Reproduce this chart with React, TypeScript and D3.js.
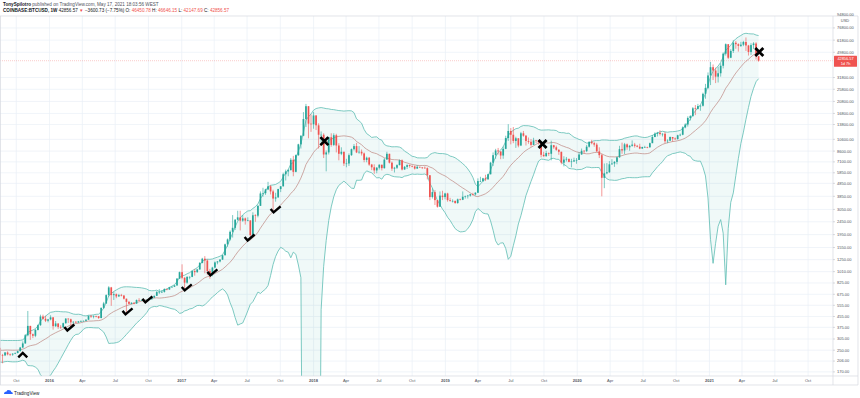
import React from 'react';
import * as d3 from 'd3';

const W = 860;
const H = 398;
const plotRight = 833;
const plotTop = 16;
const plotBottom = 376;

// weekly candles, COINBASE:BTCUSD, first bar is the week of 30 Mar 2015
const firstWeek = new Date(2015, 2, 30);
const firstOpen = 247;

const weekClose = [
  // 2015
  254, 236, 222, 226, 239, 242, 237, 240, 230, 223, 233, 244, 250, 271, 310, 275, 289, 280, 262, 260,
  229, 228, 240, 232, 231, 235, 238, 246, 262, 282, 326, 385, 332, 323, 358, 390, 455, 437, 422, 432,
  // 2016
  448, 383, 402, 378, 376, 404, 438, 433, 410, 414, 409, 417, 420, 421, 430, 460, 454, 458, 457, 443,
  530, 574, 665, 763, 665, 676, 650, 665, 660, 624, 590, 570, 581, 572, 610, 607, 610, 606, 612, 617,
  638, 657, 702, 705, 705, 740, 735, 765, 772, 790, 892, 1000,
  // 2017
  905, 830, 920, 920, 1020, 1000, 1050, 1180, 1270, 1230, 1020, 960, 1085, 1190, 1210, 1250, 1350, 1640, 1790, 2050,
  2200, 2540, 2650, 2500, 2600, 2500, 2510, 1930, 2750, 2730, 3250, 4050, 4070, 4350, 4600, 4200, 3700, 3780, 4380, 4600,
  5700, 5990, 6130, 7370, 5950, 8000, 9700, 11300, 15200, 19100, 14000, 13850,
  // 2018
  16200, 13600, 11500, 11500, 8100, 8400, 11000, 9600, 11400, 9500, 8200, 8500, 6900, 6900, 8000, 8900, 9400, 8400, 8500, 8250,
  7350, 7650, 6770, 6450, 6100, 6400, 6750, 6350, 7400, 8200, 7000, 6300, 6400, 6700, 7300, 6200, 6500, 6700, 6600, 6550,
  6300, 6500, 6430, 6400, 6350, 5600, 3800, 4150, 3600, 3200, 3900, 3800, 4050,
  // 2019
  3600, 3550, 3550, 3420, 3650, 3620, 3820, 3860, 3900, 4000, 3980, 4100, 5050, 5050, 5300, 5200, 5700, 7000, 8000, 8700,
  8550, 7950, 8950, 10850, 12300, 11500, 10300, 10800, 9500, 11800, 11300, 10300, 10150, 9600, 10400, 10350, 10050, 8050, 7850, 8300,
  8200, 9550, 9200, 8800, 8500, 7000, 7400, 7500, 7100, 7150, 7300, 7350,
  // 2020
  8100, 8650, 8600, 9300, 10150, 9900, 9650, 8550, 8000, 5350, 5800, 5900, 6800, 6900, 7100, 7700, 8900, 8700, 9700, 9200,
  9450, 9650, 9450, 9300, 9000, 9250, 9250, 9200, 9900, 11050, 11700, 11900, 11650, 11700, 10250, 10350, 11050, 10750, 10650, 11400,
  11500, 13100, 13800, 15500, 16000, 18400, 18200, 19150, 19250, 23800, 26450, 33000,
  // 2021
  38200, 36000, 32300, 34300, 39200, 48600, 57500, 45200, 51000, 59000, 57500, 55800, 57000, 59800, 56200, 50100, 56600, 58200, 46400, 42856.57,
];

const weekHigh = [
  262, 257, 237, 237, 243, 247, 245, 242, 242, 231, 236, 252, 252, 275, 315, 310, 300, 298, 282, 270,
  262, 234, 242, 245, 236, 237, 240, 248, 265, 292, 333, 502, 385, 336, 364, 395, 470, 470, 460, 436,
  465, 450, 420, 398, 390, 408, 442, 440, 438, 418, 419, 420, 425, 424, 432, 463, 468, 464, 462, 458,
  535, 590, 675, 780, 770, 705, 685, 680, 680, 665, 625, 600, 585, 585, 615, 630, 612, 612, 615, 620,
  642, 660, 715, 740, 725, 750, 745, 770, 775, 795, 900, 1010,
  1150, 915, 930, 930, 1030, 1060, 1060, 1195, 1290, 1330, 1260, 1060, 1100, 1210, 1220, 1260, 1360, 1660, 1820, 2100,
  2760, 2570, 2980, 2980, 2760, 2640, 2650, 2500, 2900, 2800, 3290, 4200, 4480, 4400, 4980, 4700, 4330, 4100, 4400, 4620,
  5860, 6190, 6250, 7600, 7900, 8100, 9800, 11400, 17200, 19900, 19100, 16500,
  17250, 16300, 14100, 12200, 11800, 8700, 11100, 11800, 11800, 11700, 9900, 9200, 8500, 7500, 8250, 9000, 9750, 9950, 9400, 8850,
  8400, 7800, 7750, 6850, 6800, 6480, 6800, 6700, 7580, 8500, 8200, 7150, 6500, 6800, 7400, 7420, 6600, 6800, 6780, 6680,
  6650, 6700, 6530, 6480, 6550, 6450, 5600, 4430, 4300, 3600, 4200, 4250, 4100,
  4100, 3750, 3650, 3570, 3700, 3700, 4200, 3900, 3950, 4030, 4100, 4150, 5300, 5450, 5350, 5650, 5750, 7100, 8400, 8950,
  9100, 8250, 9330, 11300, 13880, 12950, 13200, 11100, 10700, 12100, 12300, 11450, 10950, 10650, 10900, 10450, 10350, 10050, 8500, 8650,
  8400, 10350, 9600, 9480, 8900, 8500, 7850, 7750, 7450, 7500, 7650, 7600,
  8450, 9000, 8750, 9600, 10200, 10500, 10180, 9950, 9200, 8200, 6900, 6950, 7200, 7450, 7200, 7800, 9450, 10000, 9950, 9850,
  9600, 10400, 9950, 9600, 9800, 9300, 9450, 9300, 10000, 11450, 12000, 12100, 12450, 11800, 12100, 10600, 11150, 11050, 10950, 11500,
  11750, 13350, 14100, 15950, 16300, 18800, 19500, 19900, 19450, 24300, 28400, 34800,
  42000, 40100, 37900, 38500, 40900, 49700, 58300, 57500, 52600, 61800, 60800, 58400, 60000, 61000, 64800, 56800, 58500, 59600, 59600, 46646.15,
];

const weekLow = [
  242, 231, 216, 218, 218, 229, 233, 235, 226, 221, 222, 231, 240, 248, 265, 268, 272, 276, 258, 255,
  200, 198, 225, 228, 225, 226, 233, 236, 244, 260, 280, 320, 300, 310, 315, 355, 385, 430, 412, 410,
  425, 360, 378, 365, 365, 370, 400, 405, 370, 400, 405, 405, 412, 416, 418, 428, 444, 440, 448, 436,
  440, 520, 568, 650, 550, 610, 630, 645, 650, 615, 480, 565, 565, 565, 570, 600, 600, 595, 600, 608,
  615, 630, 655, 680, 690, 695, 725, 730, 755, 768, 785, 885,
  880, 750, 815, 880, 915, 940, 990, 1045, 1170, 980, 950, 890, 930, 1070, 1150, 1190, 1245, 1350, 1570, 1750,
  1850, 2120, 2500, 2100, 2450, 2330, 2470, 1830, 1900, 2450, 2650, 3250, 3820, 3950, 4300, 3980, 2970, 3500, 3750, 4150,
  4580, 5100, 5500, 6100, 5500, 5900, 7900, 9000, 11200, 13200, 10800, 12100,
  12800, 12500, 9000, 10000, 7600, 6000, 8100, 9300, 9400, 8400, 7300, 8000, 6600, 6450, 6600, 7900, 8700, 8300, 8200, 7950,
  7050, 7050, 6620, 6130, 5750, 5800, 6200, 6100, 6300, 7380, 6900, 6050, 5880, 6250, 6680, 6100, 6180, 6250, 6400, 6450,
  6200, 6300, 6380, 6250, 6300, 5200, 3600, 3700, 3300, 3150, 3200, 3600, 3650,
  3500, 3500, 3450, 3370, 3370, 3580, 3600, 3700, 3700, 3830, 3900, 3900, 4100, 4950, 4980, 5050, 5250, 5680, 6600, 7500,
  8100, 7450, 7500, 8900, 10300, 9700, 9900, 9100, 9200, 9400, 11100, 9500, 9800, 9300, 9600, 9900, 9650, 7700, 7800, 7800,
  7900, 7300, 8950, 8650, 8050, 6800, 6550, 7150, 7050, 6450, 7100, 6870,
  7700, 8050, 8250, 8450, 9150, 9700, 9300, 8500, 7600, 3850, 4450, 5700, 5850, 6750, 6500, 6800, 7650, 8200, 8150, 8800,
  8650, 9300, 9150, 9200, 8900, 8950, 9150, 9050, 9150, 9900, 11000, 11150, 11350, 11150, 9900, 9900, 10300, 10150, 10450, 10550,
  11200, 11400, 12900, 13300, 14800, 15900, 16300, 18000, 17600, 19000, 21800, 25900,
  27800, 30400, 28800, 29100, 32300, 37400, 47000, 44100, 44900, 49200, 53000, 50400, 54700, 55500, 51000, 47000, 47500, 52900, 43800, 42147.69,
];

const priceTicks = [
  170, 206, 250, 305, 375, 455, 555, 675, 825, 1010, 1250, 1550, 1950, 2450, 3050, 3850, 4850, 5850,
  7100, 8600, 10600, 13800, 16800, 20800, 25800, 31800, 49800, 61800, 76800,
];
const topTick = 94800;

// hand drawn annotations: date, price, kind
const markDates = ['2015-10-19', '2016-02-25', '2016-08-04', '2016-09-28', '2017-01-15', '2017-03-27', '2017-07-08', '2017-09-18', '2018-01-31', '2019-09-27', '2021-05-19'];
const markPrices = [230, 371, 494, 611, 756, 988, 1836, 3023, 10270, 9760, 50000];
const markKinds = ['up', 'check', 'check', 'check', 'check', 'check', 'check', 'check', 'x', 'x', 'x'];

const upColor = '#26a69a';
const downColor = '#ef5350';
const font = '"Liberation Sans", Arial, sans-serif';

const x = d3.scaleTime().domain([new Date(2015, 7, 17), new Date(2021, 11, 9)]).range([0, plotRight]);
const y = d3.scaleLog().domain([158, 94900]).range([plotBottom, plotTop]);

const candles = weekClose.map((c, i) => {
  const o = i === 0 ? firstOpen : weekClose[i - 1];
  return {
    date: d3.timeDay.offset(firstWeek, 7 * i),
    o,
    c,
    h: Math.max(weekHigh[i], o, c),
    l: Math.min(weekLow[i], o, c),
  };
});

// Bollinger bands 20, 2
const bands = candles
  .map((d, i) => {
    if (i < 19) return null;
    const win = weekClose.slice(i - 19, i + 1);
    const m = d3.mean(win) as number;
    const sd = Math.sqrt(d3.mean(win, (v) => (v - m) * (v - m)) as number);
    return { date: d.date, mid: m, up: m + 2 * sd, lo: Math.max(m - 2 * sd, 1) };
  })
  .filter((d) => d !== null) as { date: Date; mid: number; up: number; lo: number }[];

const bandArea = d3
  .area<(typeof bands)[0]>()
  .x((d) => x(d.date))
  .y0((d) => y(d.lo))
  .y1((d) => y(d.up));
const lineOf = (key: 'mid' | 'up' | 'lo') =>
  d3
    .line<(typeof bands)[0]>()
    .x((d) => x(d.date))
    .y((d) => y(d[key]))(bands) || '';

const timeTicks = x.ticks(d3.timeMonth.every(3) as d3.TimeInterval).filter((t) => x(t) < plotRight - 5);
const monthFmt = d3.timeFormat('%b');
const priceFmt = d3.format('.2f');
const last = candles[candles.length - 1];

function Marker({ kind }: { kind: string }) {
  if (kind === 'x')
    return <path d="M-4,-4L4,4M4,-4L-4,4" stroke="#000" strokeWidth={2.8} fill="none" />;
  if (kind === 'up')
    return <path d="M-4.5,2.5L0,-2L4.5,2.5" stroke="#000" strokeWidth={2.4} fill="none" />;
  return <path d="M-5,-1L-2,2.5L5,-3.5" stroke="#000" strokeWidth={2.4} fill="none" />;
}

export default function App() {
  const bodyW = 1.7;
  return (
    <div style={{ position: 'absolute', left: 0, top: 0 }}>
      <svg width={W} height={H} style={{ display: 'block', background: '#fff' }} fontFamily={font}>
        <defs>
          <clipPath id="plot">
            <rect x={0} y={plotTop} width={plotRight} height={plotBottom - plotTop} />
          </clipPath>
        </defs>

        {/* header */}
        <text x={3} y={6} fontSize={4.6} fill="#50535e">
          <tspan fontWeight={700} fill="#131722">TonySpilotro</tspan>
          <tspan> published on TradingView.com, May 17, 2021 18:03:56 WEST</tspan>
        </text>
        <text x={3} y={12} fontSize={4.6} fill="#131722">
          <tspan fontWeight={700}>COINBASE:BTCUSD, 1W</tspan>
          <tspan> 42856.57 </tspan>
          <tspan fill={downColor}>▼</tspan>
          <tspan> −3600.73 (−7.75%) O: </tspan>
          <tspan fill={downColor}>46450.78</tspan>
          <tspan> H: </tspan>
          <tspan fill={downColor}>46646.15</tspan>
          <tspan> L: </tspan>
          <tspan fill={downColor}>42147.69</tspan>
          <tspan> C: </tspan>
          <tspan fill={downColor}>42856.57</tspan>
        </text>

        {/* grid */}
        <g stroke="#eaeff6" strokeWidth={0.7}>
          {timeTicks.map((t, i) => (
            <line key={'v' + i} x1={x(t)} x2={x(t)} y1={plotTop} y2={plotBottom} />
          ))}
          {priceTicks.map((p, i) => (
            <line key={'h' + i} x1={0} x2={plotRight} y1={y(p)} y2={y(p)} />
          ))}
        </g>

        <g clipPath="url(#plot)">
          {/* bollinger */}
          <path d={bandArea(bands) || ''} fill={upColor} fillOpacity={0.07} />
          <path d={lineOf('up')} fill="none" stroke="#5dbcb2" strokeWidth={0.8} />
          <path d={lineOf('lo')} fill="none" stroke="#5dbcb2" strokeWidth={0.8} />
          <path d={lineOf('mid')} fill="none" stroke="#bd8580" strokeWidth={0.7} />

          {/* candles */}
          {candles.map((d, i) => {
            const col = d.c >= d.o ? upColor : downColor;
            const cx = x(d.date);
            const top = y(Math.max(d.o, d.c));
            const bot = y(Math.min(d.o, d.c));
            return (
              <g key={i}>
                <line x1={cx} x2={cx} y1={y(d.h)} y2={y(d.l)} stroke={col} strokeWidth={0.6} />
                <rect x={cx - bodyW / 2} y={top} width={bodyW} height={Math.max(bot - top, 0.6)} fill={col} />
              </g>
            );
          })}

          {/* last price line */}
          <line x1={0} x2={plotRight} y1={y(last.c)} y2={y(last.c)} stroke={downColor} strokeOpacity={0.5} strokeWidth={0.6} strokeDasharray="1 1" />

          {/* markers */}
          {markDates.map((d, i) => (
            <g key={'m' + i} transform={`translate(${x(new Date(d + 'T00:00:00'))},${y(markPrices[i])})`}>
              <Marker kind={markKinds[i]} />
            </g>
          ))}
        </g>

        {/* frame */}
        <g stroke="#d6d9e0" strokeWidth={0.7}>
          <line x1={0} x2={858} y1={plotTop} y2={plotTop} />
          <line x1={0} x2={858} y1={plotBottom} y2={plotBottom} />
          <line x1={0} x2={858} y1={385} y2={385} />
          <line x1={plotRight} x2={plotRight} y1={plotTop} y2={385} />
          <line x1={858} x2={858} y1={plotTop} y2={385} />
          <line x1={0.5} x2={0.5} y1={plotTop} y2={385} />
        </g>

        {/* price axis */}
        <g fontSize={4} fill="#50535e">
          {priceTicks.map((p, i) => (
            <g key={'pt' + i}>
              <line x1={plotRight} x2={plotRight + 2} y1={y(p)} y2={y(p)} stroke="#b2b5be" strokeWidth={0.5} />
              <text x={837} y={y(p)} dy="0.35em">
                {priceFmt(p)}
              </text>
            </g>
          ))}
          <text x={837} y={y(topTick) - 1.6} dy="0.35em">
            {priceFmt(topTick)}
          </text>
          <text x={845} y={21.6} textAnchor="middle">USD</text>
        </g>
        <rect x={834} y={y(last.c) - 5} width={23} height={11} fill={downColor} rx={0.5} />
        <text x={845.5} y={y(last.c) - 1.2} fontSize={3.9} fill="#fff" textAnchor="middle">
          {priceFmt(last.c)}
        </text>
        <text x={845.5} y={y(last.c) + 4} fontSize={3.9} fill="#fff" textAnchor="middle">
          1d 7h
        </text>

        {/* time axis */}
        <g fontSize={4} fill="#50535e" textAnchor="middle">
          {timeTicks.map((t, i) => (
            <text key={'tt' + i} x={x(t)} y={382} fontWeight={t.getMonth() === 0 ? 700 : 400}>
              {t.getMonth() === 0 ? t.getFullYear() : monthFmt(t)}
            </text>
          ))}
        </g>

        {/* logo */}
        <g transform="translate(4,390)">
          <path d="M0,4 Q0,1.5 2.5,1.5 Q3.2,-0.5 5.2,0.2 Q7,-0.2 7.3,2 Q9,2.2 8.8,4 Z" fill="#2962ff" />
          <text x={10} y={4.5} fontSize={4.6} fill="#131722">TradingView</text>
        </g>
      </svg>
    </div>
  );
}
